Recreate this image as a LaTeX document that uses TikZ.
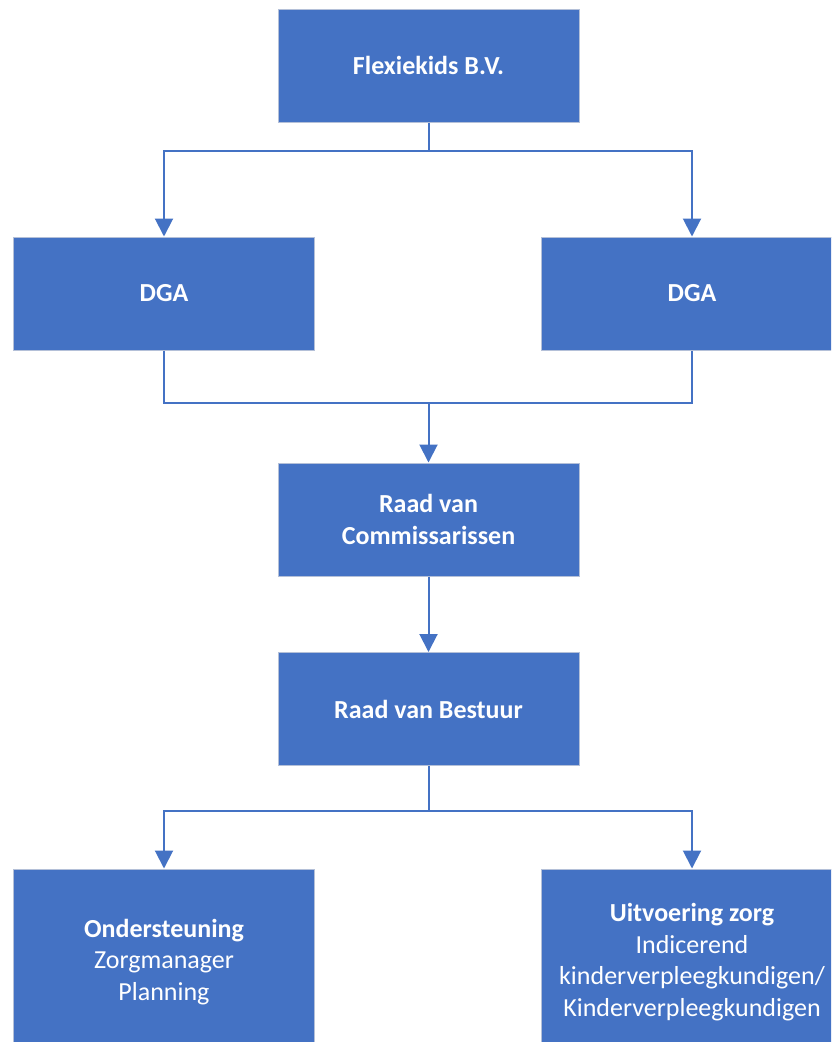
\documentclass[tikz,border=0pt]{standalone}
\usepackage{fontspec}
\setmainfont{Carlito}
\usetikzlibrary{arrows.meta}
\definecolor{boxblue}{HTML}{4472C4}
\definecolor{boxedge}{HTML}{B4C0D8}
\tikzset{
  orgbox/.style={rectangle, fill=boxblue, draw=boxedge, line width=1pt,
    minimum width=301pt, minimum height=113pt, inner sep=0pt,
    text=white, align=center, font=\fontsize{26}{31.5}\selectfont},
  tallbox/.style={orgbox, minimum height=186pt},
  link/.style={draw=boxblue, line width=2pt},
  arrowlink/.style={link, -{Triangle[width=18pt,length=18pt]}}
}
\begin{document}
\begin{tikzpicture}[x=1pt,y=-1pt]
\useasboundingbox (0,0) rectangle (831,1042);
\clip (0,0) rectangle (831,1042);
\fill[white] (0,0) rectangle (831,1042);
\node[orgbox] (flex) at (428.5,65.5) {\textbf{Flexiekids B.V.}};
\node[orgbox] (dga1) at (164,293.5) {\textbf{DGA}};
\node[orgbox] (dga2) at (692,293.5) {\textbf{DGA}};
\node[orgbox] (rvc) at (428.5,519.5) {\textbf{Raad van}\\\textbf{Commissarissen}};
\node[orgbox] (rvb) at (428.5,709) {\textbf{Raad van Bestuur}};
\node[tallbox] (ond) at (164,962) {\textbf{Ondersteuning}\\Zorgmanager\\Planning};
\node[tallbox] (uit) at (692,962) {\textbf{Uitvoering zorg}\\Indicerend\\kinderverpleegkundigen/\\Kinderverpleegkundigen};
\coordinate (j0) at (428.5,151);
\coordinate (j1) at (428.5,403);
\coordinate (j2) at (428.5,811);
\draw[link] (flex.south) -- (j0);
\draw[arrowlink] (j0) -| (dga1.north);
\draw[arrowlink] (j0) -| (dga2.north);
\draw[link] (dga1.south) |- (j1) -| (dga2.south);
\draw[arrowlink] (j1) -- (rvc.north);
\draw[arrowlink] (rvc.south) -- (rvb.north);
\draw[link] (rvb.south) -- (j2);
\draw[arrowlink] (j2) -| (ond.north);
\draw[arrowlink] (j2) -| (uit.north);
\end{tikzpicture}
\end{document}
